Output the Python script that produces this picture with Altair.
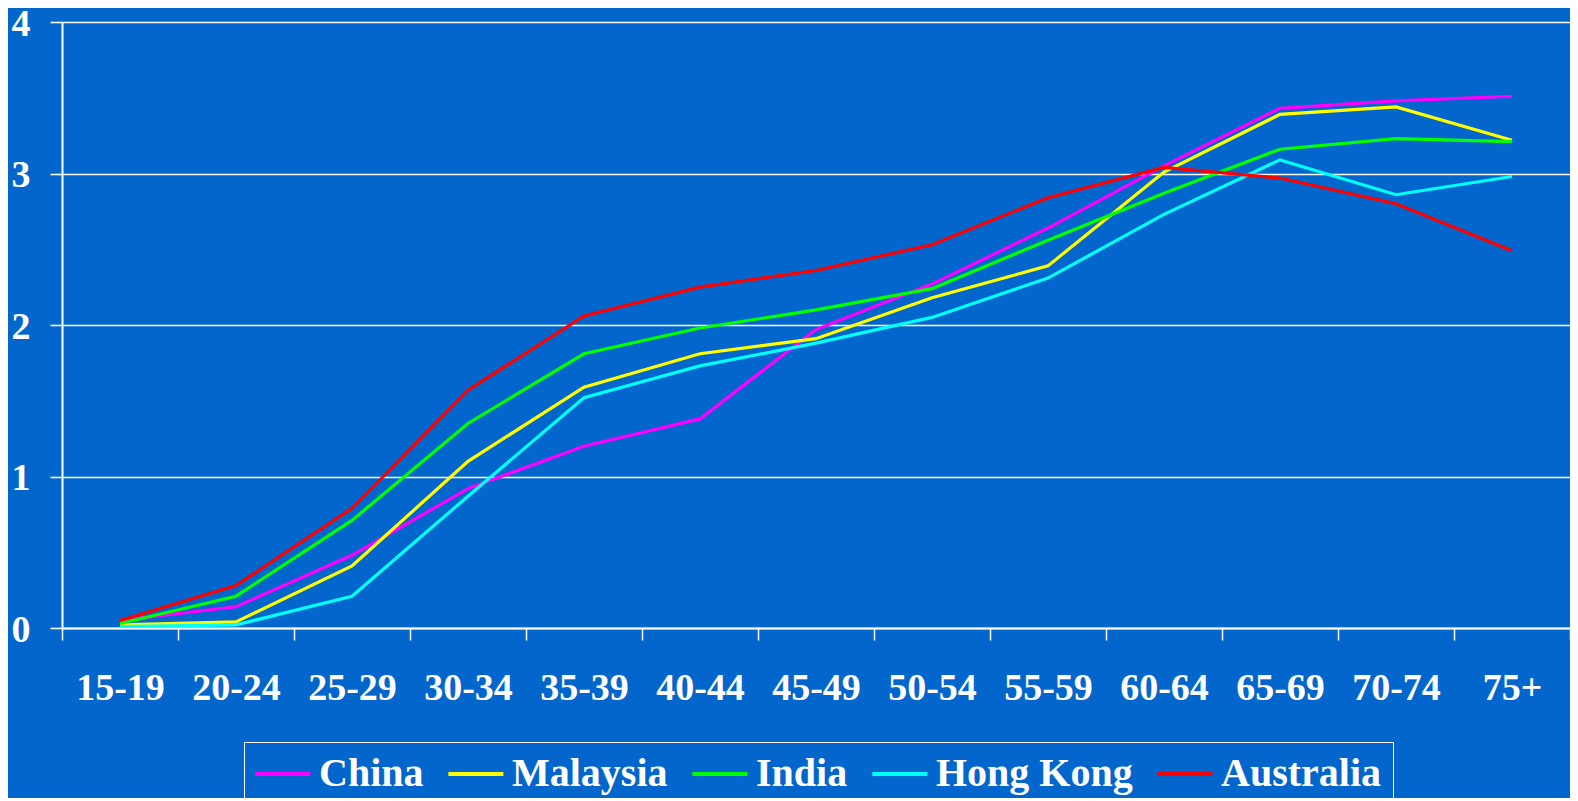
import altair as alt
import pandas as pd

ages = ["15-19", "20-24", "25-29", "30-34", "35-39", "40-44", "45-49",
        "50-54", "55-59", "60-64", "65-69", "70-74", "75+"]
countries = ["China", "Malaysia", "India", "Hong Kong", "Australia"]
colors = ["#FF00FF", "#FFFF00", "#00FF00", "#00FFFF", "#FF0000"]

china = [0.05, 0.14, 0.48, 0.92, 1.20, 1.38, 1.97, 2.27, 2.64, 3.05, 3.43, 3.48, 3.51]
malaysia = [0.02, 0.04, 0.41, 1.10, 1.59, 1.81, 1.91, 2.18, 2.39, 3.01, 3.39, 3.44, 3.22]
india = [0.03, 0.21, 0.71, 1.35, 1.81, 1.98, 2.10, 2.24, 2.56, 2.87, 3.16, 3.23, 3.21]
hong_kong = [0.01, 0.02, 0.21, 0.87, 1.52, 1.73, 1.88, 2.05, 2.31, 2.73, 3.09, 2.86, 2.98]
australia = [0.05, 0.28, 0.79, 1.57, 2.06, 2.25, 2.36, 2.53, 2.84, 3.04, 2.97, 2.80, 2.49]

series = [china, malaysia, india, hong_kong, australia]
rows = []
for name, vals in zip(countries, series):
    for a, v in zip(ages, vals):
        rows.append({"age": a, "value": v, "country": name})
df = pd.DataFrame(rows)

FONT = "Liberation Serif"
BG = "#0366CC"

chart = (
    alt.Chart(df)
    .mark_line(strokeWidth=3.2)
    .encode(
        x=alt.X(
            "age:N",
            sort=ages,
            scale=alt.Scale(type="band", domain=ages, paddingInner=0, paddingOuter=0),
            axis=alt.Axis(
                title=None,
                labelAngle=0,
                tickBand="extent",
                grid=False,
                domainColor="white",
                domainWidth=2,
                tickColor="white",
                tickWidth=1.5,
                tickSize=12,
                labelColor="white",
                labelFont=FONT,
                labelFontSize=38,
                labelFontWeight="bold",
                labelBaseline="middle",
                labelPadding=48,
            ),
        ),
        y=alt.Y(
            "value:Q",
            scale=alt.Scale(domain=[0, 4], nice=False),
            axis=alt.Axis(
                title=None,
                values=[0, 1, 2, 3, 4],
                format="d",
                grid=True,
                gridColor="white",
                gridWidth=1.6,
                domainColor="white",
                domainWidth=2,
                tickColor="white",
                tickWidth=1.6,
                tickSize=12,
                labelColor="white",
                labelFont=FONT,
                labelFontSize=38,
                labelFontWeight="bold",
                labelPadding=20,
                labelOffset=2,
            ),
        ),
        color=alt.Color(
            "country:N",
            sort=countries,
            scale=alt.Scale(domain=countries, range=colors),
            legend=alt.Legend(
                title=None,
                orient="none",
                legendX=182,
                legendY=720,
                direction="horizontal",
                columns=5,
                symbolType="M-1.5,0H2.5",
                symbolSize=756,
                symbolStrokeWidth=4,
                labelColor="white",
                labelFont=FONT,
                labelFontSize=40,
                labelFontWeight="bold",
                labelOffset=23,
                columnPadding=16,
                strokeColor="white",
                padding=12,
                labelLimit=400,
            ),
        ),
    )
    .properties(
        width=1508,
        height=606,
        background=BG,
        autosize=alt.AutoSizeParams(type="none"),
        padding={"left": 54, "top": 14, "right": 0, "bottom": 170},
    )
    .configure_view(stroke=None)
)

chart.save("out.html", embed_options={"renderer": "svg", "actions": False})
